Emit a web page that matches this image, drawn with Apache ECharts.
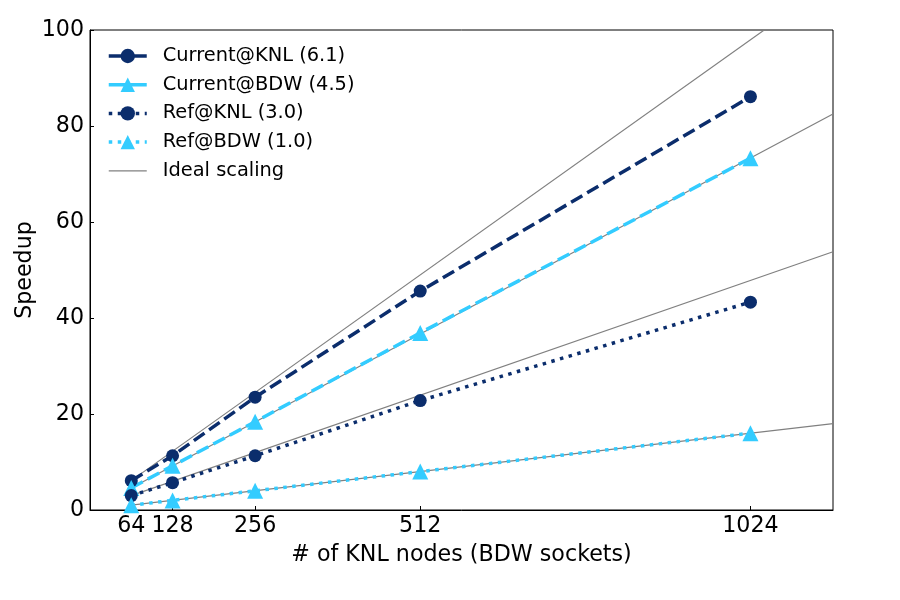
<!DOCTYPE html>
<html>
<head>
<meta charset="utf-8">
<script src="https://cdn.jsdelivr.net/npm/echarts@6/dist/echarts.min.js"></script>
<style>html,body{margin:0;padding:0;background:#fff}#c{width:900px;height:600px}</style>
</head>
<body>
<div id="c"></div>
<script>
// Data
const nodes = [64, 128, 256, 512, 1024];
const tickValues = [64, 128, 256, 512, 1024];
const currentKNL = [6.1, 11.3, 23.5, 45.6, 86.1];
const currentBDW = [4.6, 9.2, 18.4, 36.9, 73.3];
const refKNL = [3.0, 5.7, 11.3, 22.8, 43.3];
const refBDW = [1.0, 2.0, 4.0, 8.0, 16.0];
// Ideal scaling lines: start (64 nodes) and end (1152 nodes) values
const idealX = [64, 1152];
const idealCurrentKNL = [6.12, 110.2];
const idealCurrentBDW = [4.58, 82.5];
const idealRefKNL = [2.99, 53.8];
const idealRefBDW = [1.0, 18.0];

const NAVY = '#0b2d6c';
const CYAN = '#33ccff';
const FONT = 'DejaVu Sans';
const DASHED = [13, 5.6];
const DOTTED = [3.5, 5.5];

function pairs(xs, ys) { return xs.map((x, i) => [x, ys[i]]); }

function idealSeries(vals) {
  return {
    name: 'Ideal scaling', type: 'line', data: pairs(idealX, vals),
    symbol: 'none', z: 1, silent: true,
    lineStyle: { color: '#808080', width: 1.2 },
    itemStyle: { color: '#808080' }
  };
}
function mainSeries(name, vals, color, symbol, size, dash) {
  return {
    name, type: 'line', data: pairs(nodes, vals), z: 3,
    symbol, symbolSize: size, showAllSymbol: true,
    lineStyle: { color, width: 3.5, type: dash, cap: 'butt' },
    itemStyle: { color, borderWidth: 0 }
  };
}

const chart = echarts.init(document.getElementById('c'), null, { renderer: 'canvas' });
chart.setOption({
  animation: false,
  backgroundColor: '#fff',
  textStyle: { fontFamily: FONT },
  grid: { left: 90, right: 67, top: 30, bottom: 90, show: true, borderColor: '#000', borderWidth: 1, backgroundColor: 'transparent' },
  legend: {
    data: [
      { name: 'Current@KNL (6.1)', lineStyle: { type: 'solid' } },
      { name: 'Current@BDW (4.5)', lineStyle: { type: 'solid' } },
      { name: 'Ref@KNL (3.0)' },
      { name: 'Ref@BDW (1.0)' },
      { name: 'Ideal scaling', itemStyle: { opacity: 0 }, lineStyle: { width: 1.2 } }
    ],
    orient: 'vertical', left: 107, top: 46, padding: 0,
    itemWidth: 38, itemHeight: 18, itemGap: 8.7,
    lineStyle: { width: 3.5 },
    textStyle: { fontSize: 19.4, fontFamily: FONT, color: '#000', lineHeight: 20, padding: [0, 0, 0, 11] }
  },
  xAxis: {
    type: 'value', min: 0, max: 1152,
    name: '# of KNL nodes (BDW sockets)', nameLocation: 'middle', nameGap: 34, nameMoveOverlap: false,
    nameTextStyle: { fontSize: 22.2, fontFamily: FONT, color: '#000' },
    axisLine: { show: true, lineStyle: { color: '#000', width: 1 } },
    axisTick: { show: true, inside: true, length: 4, customValues: tickValues, lineStyle: { color: '#000' } },
    axisLabel: { customValues: tickValues, formatter: v => String(v), fontSize: 22.2, fontFamily: FONT, color: '#000', margin: 5 },
    splitLine: { show: false }
  },
  yAxis: {
    type: 'value', min: 0, max: 100, interval: 20,
    name: 'Speedup', nameLocation: 'middle', nameGap: 54, nameMoveOverlap: false,
    nameTextStyle: { fontSize: 22.2, fontFamily: FONT, color: '#000' },
    axisLine: { show: true, lineStyle: { color: '#000', width: 1 } },
    axisTick: { show: true, inside: true, length: 4, lineStyle: { color: '#000' } },
    axisLabel: { fontSize: 22.2, fontFamily: FONT, color: '#000', margin: 6 },
    splitLine: { show: false }
  },
  series: [
    idealSeries(idealCurrentKNL),
    idealSeries(idealCurrentBDW),
    idealSeries(idealRefKNL),
    idealSeries(idealRefBDW),
    mainSeries('Current@KNL (6.1)', currentKNL, NAVY, 'circle', 13, DASHED),
    mainSeries('Current@BDW (4.5)', currentBDW, CYAN, 'triangle', 16, DASHED),
    mainSeries('Ref@KNL (3.0)', refKNL, NAVY, 'circle', 13, DOTTED),
    mainSeries('Ref@BDW (1.0)', refBDW, CYAN, 'triangle', 16, DOTTED)
  ]
});
</script>
</body>
</html>
